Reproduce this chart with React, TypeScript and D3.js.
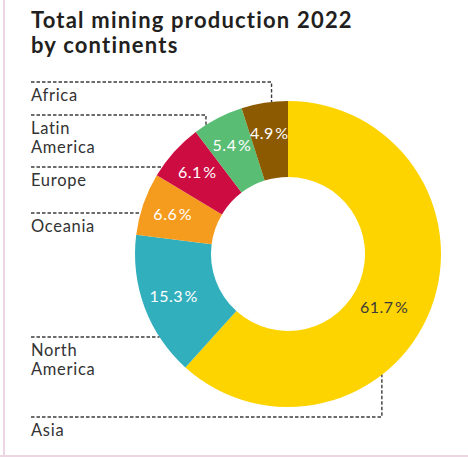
import * as React from "react";
import * as d3 from "d3";

const CONTINENTS = ["Asia", "North America", "Oceania", "Europe", "Latin America", "Africa"];
const SHARES = [61.7, 15.3, 6.6, 6.1, 5.4, 4.9];
const COLORS = ["#fdd300", "#31afbd", "#f59c1f", "#cd0d42", "#5abd74", "#8c5a00"];
const LABEL_LINES = [["Asia"], ["North", "America"], ["Oceania"], ["Europe"], ["Latin", "America"], ["Africa"]];

const W = 468;
const H = 457;
const CX = 288;
const CY = 254;
const R_OUT = 153;
const R_IN = 77;
const LEFT = 31;
const FONT = "Lato, 'Noto Sans', sans-serif";

// legend rows (y of the dashed rule), and whether the leader bends at an angle in the slice
const ROWS: { y: number; bend: number | null }[] = [
  { y: 417, bend: 0.64 }, // Asia
  { y: 337, bend: null },
  { y: 213, bend: null },
  { y: 167, bend: null },
  { y: 115, bend: 0.24 },
  { y: 82, bend: 0.65 },
];

export default function App() {
  const pie = d3
    .pie<number>()
    .sort(null)
    .value((d) => d)
    .startAngle(0)
    .endAngle(Math.PI * 2);
  const arcs = pie(SHARES);
  const arc = d3.arc<d3.PieArcDatum<number>>().innerRadius(R_IN).outerRadius(R_OUT);

  const pt = (a: number, r: number) => [CX + Math.sin(a) * r, CY - Math.cos(a) * r];

  return (
    <div style={{ position: "absolute", left: 0, top: 0 }}>
      <svg width={W} height={H} style={{ display: "block", background: "#fff" }}>
        <rect x={3} y={0} width={2} height={H} fill="#ecd6e1" />
        <rect x={0} y={455} width={W} height={2} fill="#ecd6e1" />
        <text x={LEFT} y={28} fontFamily={FONT} fontWeight={700} fontSize={22} letterSpacing={1.2} fill="#231f20">
          Total mining production 2022
        </text>
        <text x={LEFT} y={53} fontFamily={FONT} fontWeight={700} fontSize={22} letterSpacing={1.2} fill="#231f20">
          by continents
        </text>

        <g>
          {arcs.map((d, i) => (
            <path key={i} d={arc(d) || ""} transform={`translate(${CX},${CY})`} fill={COLORS[i]} />
          ))}
        </g>

        {arcs.map((d, i) => {
          const big = d.endAngle - d.startAngle > Math.PI;
          const mid = (d.startAngle + d.endAngle) / 2 + (big ? 0.14 : 0);
          const [x, y] = pt(mid, big ? 110 : 122);
          return (
            <text
              key={i}
              x={x}
              y={y}
              dy="0.35em"
              textAnchor="middle"
              fontFamily={FONT}
              fontSize={16}
              letterSpacing={0.5}
              fill={big ? "#3a3a3a" : "#fff"}
            >
              {`${SHARES[i].toFixed(1)}\u200a%`}
            </text>
          );
        })}

        {arcs.map((d, i) => {
          const row = ROWS[i];
          let path: string;
          if (row.bend !== null) {
            const a = d.startAngle + (d.endAngle - d.startAngle) * row.bend;
            const [ax, ay] = pt(a, R_OUT);
            path = `M${LEFT},${row.y}H${ax}V${ay}`;
          } else {
            const dy = row.y - CY;
            const ax = CX - Math.sqrt(R_OUT * R_OUT - dy * dy);
            path = `M${LEFT},${row.y}H${ax}`;
          }
          return (
            <g key={i}>
              <path d={path} fill="none" stroke="#3c3c3c" strokeWidth={1.4} strokeDasharray="3.5,2" />
              {LABEL_LINES[i].map((s, j) => (
                <text
                  key={j}
                  x={LEFT}
                  y={row.y + 18.5 + j * 19}
                  fontFamily={FONT}
                  fontSize={16.5}
                  letterSpacing={0.7}
                  fill="#333"
                >
                  {s}
                </text>
              ))}
            </g>
          );
        })}
      </svg>
    </div>
  );
}
